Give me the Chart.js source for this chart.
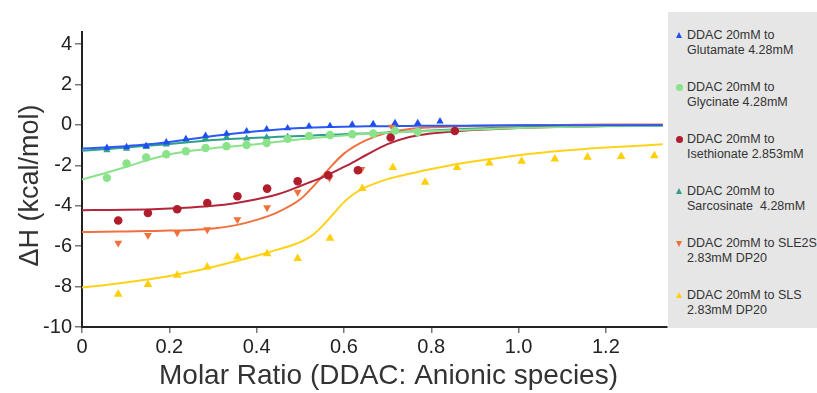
<!DOCTYPE html>
<html><head><meta charset="utf-8">
<script src="https://cdn.jsdelivr.net/npm/chart.js@4/dist/chart.umd.min.js"></script>
<style>
html,body{margin:0;padding:0;background:#fff;}
#wrap{position:relative;width:817px;height:393px;overflow:hidden;}
#c{position:absolute;left:0;top:0;}
#legend{position:absolute;left:668px;top:12px;width:149px;height:316px;background:#e6e6e6;font-family:"Liberation Sans",Arial,sans-serif;font-size:12.5px;color:#333;overflow:hidden;}
.item{position:absolute;left:0;width:149px;height:30px;white-space:pre;line-height:15px;}
.txt{position:absolute;left:19px;top:0;}
.mk{position:absolute;}
</style></head><body>
<div id="wrap"><canvas id="c" width="817" height="393"></canvas><div id="legend"></div></div>
<script>
// ---- tick labels ----
const xTickValues = [0, 0.2, 0.4, 0.6, 0.8, 1.0, 1.2];
const yTickValues = [-10, -8, -6, -4, -2, 0, 2, 4];

// ---- series names ----
const seriesNames = [
  ["DDAC 20mM to", "Glutamate 4.28mM"],
  ["DDAC 20mM to", "Glycinate 4.28mM"],
  ["DDAC 20mM to", "Isethionate 2.853mM"],
  ["DDAC 20mM to", "Sarcosinate  4.28mM"],
  ["DDAC 20mM to SLE2S", "2.83mM DP20"],
  ["DDAC 20mM to SLS", "2.83mM DP20"]
];

// ---- measured points ----
const glutamateX = [0.057,0.102,0.147,0.193,0.238,0.283,0.331,0.377,0.423,0.471,0.520,0.568,0.619,0.667,0.717,0.769,0.820];
const glutamateY = [-1.13,-1.09,-1.04,-0.86,-0.69,-0.53,-0.43,-0.31,-0.21,-0.16,-0.06,-0.05,0.02,0.05,0.10,0.10,0.18];
const glycinateX = [0.057,0.102,0.147,0.193,0.238,0.283,0.331,0.377,0.423,0.471,0.520,0.568,0.619,0.667,0.717,0.769];
const glycinateY = [-2.62,-1.91,-1.61,-1.45,-1.30,-1.14,-1.05,-0.99,-0.89,-0.69,-0.55,-0.50,-0.46,-0.42,-0.28,-0.35];
const isethionateX = [0.083,0.151,0.218,0.287,0.356,0.424,0.494,0.564,0.632,0.707,0.854];
const isethionateY = [-4.73,-4.36,-4.17,-3.86,-3.53,-3.15,-2.79,-2.49,-2.24,-0.62,-0.30];
const sarcosinateX = [0.057,0.102,0.147,0.193,0.238,0.283,0.331,0.377,0.423,0.471,0.520,0.568,0.619,0.667,0.717];
const sarcosinateY = [-1.25,-1.17,-1.09,-0.96,-0.76,-0.67,-0.62,-0.67,-0.62,-0.59,-0.54,-0.49,-0.46,-0.43,-0.30];
const sle2sX = [0.083,0.151,0.218,0.287,0.356,0.424,0.494,0.567,0.640,0.710];
const sle2sY = [-5.84,-5.46,-5.33,-5.18,-4.68,-4.09,-3.32,-2.62,-2.19,-0.10];
const slsX = [0.083,0.151,0.218,0.287,0.356,0.424,0.494,0.568,0.642,0.712,0.786,0.859,0.933,1.007,1.083,1.158,1.235,1.311];
const slsY = [-8.38,-7.90,-7.44,-7.03,-6.53,-6.37,-6.61,-5.61,-3.15,-2.11,-2.84,-2.11,-1.88,-1.80,-1.68,-1.60,-1.56,-1.52];

// ---- fitted curves ----
const fitX = [0,0.05,0.1,0.15,0.2,0.25,0.3,0.35,0.4,0.45,0.5,0.525,0.55,0.575,0.6,0.625,0.65,0.7,0.75,0.8,0.85,0.9,1.0,1.1,1.2,1.33];
const glutamateFit = [-1.17,-1.12,-1.05,-0.96,-0.84,-0.70,-0.55,-0.42,-0.31,-0.22,-0.15,-0.13,-0.11,-0.10,-0.09,-0.08,-0.07,-0.06,-0.05,-0.04,-0.04,-0.03,-0.02,-0.02,-0.01,-0.01];
const glycinateFit = [-2.70,-2.40,-2.08,-1.74,-1.46,-1.28,-1.15,-1.05,-0.95,-0.83,-0.71,-0.66,-0.61,-0.56,-0.52,-0.48,-0.44,-0.39,-0.34,-0.30,-0.26,-0.22,-0.15,-0.10,-0.07,-0.05];
const isethionateFit = [-4.22,-4.21,-4.20,-4.18,-4.14,-4.08,-4.00,-3.87,-3.68,-3.42,-3.02,-2.81,-2.60,-2.35,-2.08,-1.80,-1.50,-0.95,-0.60,-0.42,-0.32,-0.25,-0.15,-0.09,-0.05,-0.03];
const sarcosinateFit = [-1.28,-1.20,-1.12,-1.03,-0.94,-0.84,-0.75,-0.68,-0.63,-0.59,-0.55,-0.53,-0.50,-0.48,-0.46,-0.44,-0.42,-0.38,-0.33,-0.27,-0.22,-0.18,-0.12,-0.08,-0.05,-0.03];
const sle2sFit = [-5.30,-5.29,-5.27,-5.25,-5.23,-5.20,-5.13,-4.97,-4.70,-4.30,-3.68,-3.15,-2.55,-1.95,-1.42,-1.05,-0.76,-0.38,-0.20,-0.12,-0.08,-0.05,-0.02,0.00,0.02,0.02];
const slsFit = [-8.05,-7.93,-7.80,-7.65,-7.48,-7.27,-7.03,-6.76,-6.47,-6.16,-5.80,-5.50,-5.02,-4.42,-3.82,-3.38,-3.08,-2.68,-2.42,-2.18,-1.97,-1.80,-1.50,-1.28,-1.12,-0.96];

const colors = ['#1f4ef5', '#8ae38a', '#b01e2e', '#2f9e8c', '#f0703a', '#ffcf0a'];
const lineColors = ['#2a5af5', '#8ae38a', '#b3263a', '#2f9e8c', '#f07040', '#ffd21a'];
const markers = ['tri', 'circle', 'circle', 'tri', 'down', 'tri'];
const markerRadius = [4.2, 4.2, 4.3, 4.2, 4.6, 5.0];

const pts = [[glutamateX, glutamateY],[glycinateX, glycinateY],[isethionateX, isethionateY],[sarcosinateX, sarcosinateY],[sle2sX, sle2sY],[slsX, slsY]];
const fits = [glutamateFit, glycinateFit, isethionateFit, sarcosinateFit, sle2sFit, slsFit];

const datasets = [];
pts.forEach((p, i) => {
  datasets.push({
    label: seriesNames[i].join(' '),
    data: p[0].map((x, k) => ({x: x, y: p[1][k]})),
    showLine: false,
    pointStyle: markers[i] === 'circle' ? 'circle' : 'triangle',
    rotation: markers[i] === 'down' ? 180 : 0,
    pointRadius: markerRadius[i],
    pointBackgroundColor: colors[i],
    pointBorderWidth: 0,
    pointBorderColor: colors[i],
    order: 1
  });
});
fits.forEach((f, i) => {
  datasets.push({
    label: seriesNames[i].join(' ') + ' fit',
    data: fitX.map((x, k) => ({x: x, y: f[k]})),
    showLine: true,
    borderColor: lineColors[i],
    borderWidth: 2,
    pointRadius: 0,
    cubicInterpolationMode: 'monotone',
    fill: false,
    order: 2
  });
});

const FONT = '"Liberation Sans", Arial, sans-serif';

// shift an axis title slightly, as in the reference figure
function shiftTitle(dx, dy) {
  return s => {
    if (s._titleShifted) return;
    s._titleShifted = true;
    const orig = s.drawTitle;
    s.drawTitle = function () {
      this.ctx.save();
      this.ctx.translate(dx, dy);
      orig.apply(this, arguments);
      this.ctx.restore();
    };
  };
}

new Chart(document.getElementById('c'), {
  type: 'scatter',
  data: { datasets: datasets },
  options: {
    responsive: false,
    animation: false,
    devicePixelRatio: 1,
    layout: { padding: { left: 0, right: 150, top: 32, bottom: 0 } },
    plugins: { legend: { display: false }, tooltip: { enabled: false } },
    scales: {
      x: {
        type: 'linear', min: 0, max: 1.34,
        afterBuildTicks: s => { s.ticks = xTickValues.map(v => ({value: v})); },
        afterFit: s => { s.height = 66; },
        afterUpdate: shiftTitle(14, 0),
        ticks: { font: { family: FONT, size: 20 }, color: '#222', padding: 2,
                 callback: v => v === 0 ? '0' : v.toFixed(1), maxRotation: 0 },
        grid: { drawOnChartArea: false, drawTicks: true, tickLength: 6, color: '#777', lineWidth: 1.5 },
        border: { display: true, color: '#222', width: 2 },
        title: { display: true, text: 'Molar Ratio (DDAC: Anionic species)', color: '#333',
                 font: { family: FONT, size: 28 }, padding: { top: 0, bottom: 0 } }
      },
      y: {
        type: 'linear', min: -10, max: 4.6,
        afterBuildTicks: s => { s.ticks = yTickValues.map(v => ({value: v})); },
        afterFit: s => { s.width = 82; },
        afterUpdate: shiftTitle(0, 6),
        ticks: { font: { family: FONT, size: 20 }, color: '#222', padding: 3,
                 callback: v => String(v) },
        grid: { drawOnChartArea: false, drawTicks: true, tickLength: 7, color: '#777', lineWidth: 1.5 },
        border: { display: true, color: '#222', width: 2 },
        title: { display: true, text: 'ΔH (kcal/mol)', color: '#333',
                 font: { family: FONT, size: 27 }, padding: { top: 14, bottom: 0 } }
      }
    }
  }
});

// ---- HTML legend built from the series ----
const legend = document.getElementById('legend');
seriesNames.forEach((name, i) => {
  const item = document.createElement('div');
  item.className = 'item';
  item.style.top = (16 + i * 52) + 'px';
  const mk = document.createElement('div');
  mk.className = 'mk';
  const c = colors[i];
  if (markers[i] === 'circle') {
    Object.assign(mk.style, {left: '7.5px', top: '4px', width: '7px', height: '7px', borderRadius: '50%', background: c});
  } else if (markers[i] === 'down') {
    Object.assign(mk.style, {left: '7.5px', top: '4.5px', width: 0, height: 0, borderLeft: '3.5px solid transparent', borderRight: '3.5px solid transparent', borderTop: '6px solid ' + c});
  } else {
    Object.assign(mk.style, {left: '7.5px', top: '4px', width: 0, height: 0, borderLeft: '3.5px solid transparent', borderRight: '3.5px solid transparent', borderBottom: '6px solid ' + c});
  }
  const t = document.createElement('div');
  t.className = 'txt';
  t.textContent = name[0] + '\n' + name[1];
  item.appendChild(mk);
  item.appendChild(t);
  legend.appendChild(item);
});
</script>
</body></html>
